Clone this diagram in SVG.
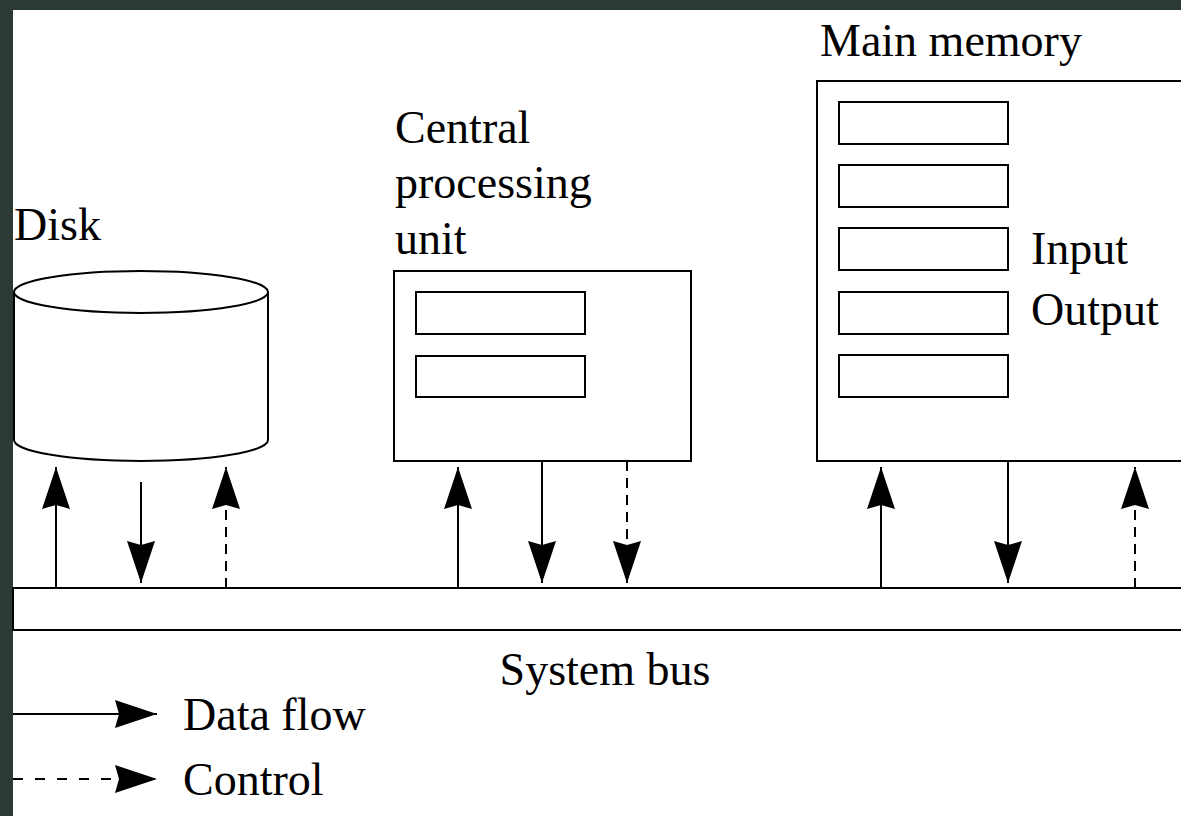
<svg xmlns="http://www.w3.org/2000/svg" width="1181" height="816" viewBox="0 0 1181 816">
  <defs>
    <style>
      .ln { stroke: #000; stroke-width: 2; fill: none; }
      .box { stroke: #000; stroke-width: 2; fill: #fff; }
      .dash { stroke-dasharray: 10 7; }
      .dash-wide { stroke-dasharray: 10 12; }
      .lbl { font-family: "Liberation Serif", "Times New Roman", serif; font-size: 46px; fill: #000; }
    </style>
    <marker id="head" markerUnits="userSpaceOnUse" markerWidth="46" markerHeight="32" viewBox="-44 -16 46 32" refX="0" refY="0" orient="auto">
      <path d="M0,0 L-42,-14 L-38,0 L-42,14 Z" fill="#000"/>
    </marker>
  </defs>

  <!-- page frame -->
  <rect x="0" y="0" width="1181" height="816" fill="#2b3a33"/>
  <rect x="13" y="10" width="1168" height="806" fill="#fff"/>

  <!-- disk -->
  <g id="disk">
    <path class="box" d="M14,292 L14,440 A127,21 0 0 0 268,440 L268,292"/>
    <ellipse class="box" cx="141" cy="292" rx="127" ry="21"/>
    <text class="lbl" x="14" y="240">Disk</text>
  </g>

  <!-- central processing unit -->
  <g id="cpu">
    <rect class="box" x="394" y="271" width="297" height="190"/>
    <rect class="box" x="416" y="292" width="169" height="42"/>
    <rect class="box" x="416" y="356" width="169" height="41"/>
    <text class="lbl" x="395" y="143">Central</text>
    <text class="lbl" x="395" y="198">processing</text>
    <text class="lbl" x="395" y="254">unit</text>
  </g>

  <!-- main memory -->
  <g id="memory">
    <rect class="box" x="817" y="81" width="380" height="380"/>
    <rect class="box" x="839" y="102" width="169" height="42"/>
    <rect class="box" x="839" y="165" width="169" height="42"/>
    <rect class="box" x="839" y="228" width="169" height="42"/>
    <rect class="box" x="839" y="292" width="169" height="42"/>
    <rect class="box" x="839" y="355" width="169" height="42"/>
    <text class="lbl" x="820" y="56">Main memory</text>
    <text class="lbl" x="1031" y="264">Input</text>
    <text class="lbl" x="1031" y="325">Output</text>
  </g>

  <!-- system bus -->
  <g id="bus">
    <rect class="box" x="13" y="588" width="1190" height="42"/>
    <text class="lbl" x="605" y="685" text-anchor="middle">System bus</text>
  </g>

  <!-- connectors between the units and the bus -->
  <g id="connectors">
    <line class="ln" x1="56" y1="588" x2="56" y2="467" marker-end="url(#head)"/>
    <line class="ln" x1="141" y1="482" x2="141" y2="583" marker-end="url(#head)"/>
    <line class="ln dash" x1="226" y1="588" x2="226" y2="467" marker-end="url(#head)"/>

    <line class="ln" x1="458" y1="588" x2="458" y2="467" marker-end="url(#head)"/>
    <line class="ln" x1="542" y1="461" x2="542" y2="583" marker-end="url(#head)"/>
    <line class="ln dash" x1="627" y1="461" x2="627" y2="583" marker-end="url(#head)"/>

    <line class="ln" x1="881" y1="588" x2="881" y2="467" marker-end="url(#head)"/>
    <line class="ln" x1="1008" y1="461" x2="1008" y2="583" marker-end="url(#head)"/>
    <line class="ln dash" x1="1135" y1="588" x2="1135" y2="467" marker-end="url(#head)"/>
  </g>

  <!-- legend -->
  <g id="legend">
    <line class="ln" x1="13" y1="714" x2="157" y2="714" marker-end="url(#head)"/>
    <text class="lbl" x="183" y="730">Data flow</text>
    <line class="ln dash-wide" x1="13" y1="779" x2="157" y2="779" marker-end="url(#head)"/>
    <text class="lbl" x="183" y="795">Control</text>
  </g>
</svg>
